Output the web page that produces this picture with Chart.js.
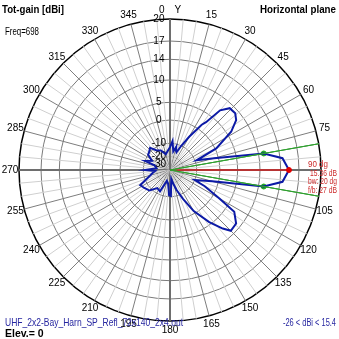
<!DOCTYPE html>
<html>
<head>
<meta charset="utf-8">
<script src="https://cdn.jsdelivr.net/npm/chart.js@4/dist/chart.umd.min.js"></script>
<style>
  html, body { margin: 0; padding: 0; background: #fff; overflow: hidden; }
  #wrap { width: 339px; height: 339px; position: relative; }
</style>
</head>
<body>
<div id="wrap"><canvas id="pattern"></canvas></div>
<script>
// Horizontal-plane total gain, vertices of the traced pattern: azimuth (deg) / gain (dBi)
const azimuths = [0, 5, 10, 15, 17, 20, 25, 30, 35, 37, 40, 44, 49, 53, 58, 65, 70, 75, 80, 84, 90, 96, 100, 105, 112, 115, 120, 123, 129, 135, 138, 143, 150, 156, 162, 167, 172, 178, 182, 188, 196, 205, 215, 225, 235, 243, 250, 260, 266, 270, 277, 287, 290, 297, 305, 310, 318, 325, 335, 345, 355];
const gains    = [-13, -9, -16, -12, -15, -16, -10, -5, 1.5, 2.8, 7.3, 9.1, 9.2, 8.4, 6.0, 0.3, -9.3, -1.8, 11.0, 14.4, 15.36, 14.4, 11.0, -2.7, -10.0, -5.0, 2.0, 7.0, 8.9, 9.1, 7.5, 4.3, -1.1, -8, -14.5, -20, -26, -10.5, -11, -20, -23, -12.4, -13.5, -9, -8, -7.1, -12, -16.9, -19, -11.7, -20, -18, -10.2, -15, -10, -9.7, -8.7, -12, -14, -18, -15];

// dB levels of the rings of the log radial grid, outermost last
const ringLevels = [-30, -20, -10, 0, 5, 10, 14, 17, 20];

// Compass labels (degrees); the 90° one is left out, the beam read-out sits there
const compassLabels = [0, 15, 30, 45, 60, 75, 105, 120, 135, 150, 165, 180, 195, 210, 225, 240, 255, 270, 285, 300, 315, 330, 345];

// Main-beam markers and run details
const peakAzimuth = 90;
const peakGain = 15.36;
const beamEdges = [80, 100];
const beamEdgeGains = [11.0, 11.0];
const beamWidth = 20;
const frontToBack = 27;
const frequency = 698;
const elevation = 0;
const modelFile = 'UHF_2x2-Bay_Harn_SP_Refl_72x140_2x4.out';

// Radial placement of each ring as a fraction of the outer radius (log-style grid)
const ringFraction = [0.04, 0.09, 0.177, 0.331, 0.448, 0.596, 0.733, 0.854, 1];
function dbToR(db) {
  if (db <= ringLevels[0]) return Math.max(0, ringFraction[0] * (db + 40) / 10);
  for (let i = 1; i < ringLevels.length; i++) {
    if (db <= ringLevels[i]) {
      const t = (db - ringLevels[i - 1]) / (ringLevels[i] - ringLevels[i - 1]);
      return ringFraction[i - 1] + t * (ringFraction[i] - ringFraction[i - 1]);
    }
  }
  return 1;
}

const N = 360;
const labels = Array.from({ length: N }, (_, i) => i);
const blank = () => new Array(N).fill(null);

const patternData = blank();
azimuths.forEach((a, i) => { patternData[a % N] = dbToR(gains[i]); });

const peakRay = blank();
peakRay[peakAzimuth] = dbToR(peakGain);
peakRay[(peakAzimuth + 180) % N] = 0;

const edgeRays = beamEdges.map(a => {
  const d = blank();
  d[a] = 1;
  d[(a + 180) % N] = 0;
  return d;
});

const edgeDots = blank();
beamEdges.forEach((a, i) => { edgeDots[a] = dbToR(beamEdgeGains[i]); });

const FONT = "'Liberation Sans', Arial, sans-serif";
const minGain = Math.min(...gains);
const maxGain = Math.max(...gains);

// Compass labels centred just outside the rim, on the scale's own spoke positions
const compass = {
  id: 'compass',
  afterDatasetsDraw(chart) {
    const s = chart.scales.r;
    const c = chart.ctx;
    c.save();
    c.font = '10px ' + FONT;
    c.fillStyle = '#000';
    c.textAlign = 'center';
    c.textBaseline = 'middle';
    compassLabels.forEach(deg => {
      const p = s.getPointPosition(deg, s.drawingArea + 9);
      c.fillText(deg === 0 ? '0\u2002\u2002Y' : String(deg), p.x, p.y);
    });
    c.restore();
  }
};

// Header, footer and beam read-out
const annotate = {
  id: 'annotate',
  afterDraw(chart) {
    const c = chart.ctx;
    c.save();
    c.textBaseline = 'alphabetic';
    c.fillStyle = '#000';
    c.font = 'bold 11px ' + FONT;
    c.textAlign = 'left';
    c.fillText('Tot-gain [dBi]', 2, 13, 62);
    c.textAlign = 'right';
    c.fillText('Horizontal plane', 336, 13, 76);
    c.textAlign = 'left';
    c.font = '10px ' + FONT;
    c.fillText('Freq=' + frequency, 5, 35, 34);
    c.fillStyle = '#2626a0';
    c.font = '10.5px ' + FONT;
    c.fillText(modelFile, 5, 326, 178);
    c.textAlign = 'right';
    c.fillText(Math.round(minGain) + ' < dBi < ' + maxGain.toFixed(1), 336, 326, 53);
    c.textAlign = 'left';
    c.fillStyle = '#000';
    c.font = 'bold 10.5px ' + FONT;
    c.fillText('Elev.= ' + elevation, 5, 337, 41);
    c.fillStyle = '#cc2a2a';
    c.font = '9.5px ' + FONT;
    c.fillText(peakAzimuth + ' dg', 308, 167, 20);
    c.fillText(peakGain.toFixed(2) + ' dB', 310, 175.5, 27);
    c.fillText('bw: ' + beamWidth + ' dg', 308, 184, 29);
    c.fillText('f/b: ' + frontToBack + ' dB', 308, 192.5, 29);
    c.restore();
  }
};

new Chart(document.getElementById('pattern'), {
  type: 'radar',
  data: {
    labels,
    datasets: [
      {
        data: edgeRays[0], borderColor: '#2ea02e', borderWidth: 1, pointRadius: 0,
        spanGaps: true, fill: false, tension: 0
      },
      {
        data: edgeRays[1], borderColor: '#2ea02e', borderWidth: 1, pointRadius: 0,
        spanGaps: true, fill: false, tension: 0
      },
      {
        data: peakRay, borderColor: '#d02020', borderWidth: 1, spanGaps: true, fill: false, tension: 0,
        pointRadius: ctx => (ctx.index === peakAzimuth ? 2.5 : 0),
        pointBackgroundColor: '#e00000', pointBorderColor: '#e00000'
      },
      {
        data: patternData, borderColor: '#0c1aa6', borderWidth: 2, pointRadius: 0,
        spanGaps: true, fill: false, tension: 0
      },
      {
        data: edgeDots, showLine: false, pointRadius: 2.5,
        pointBackgroundColor: '#1faa1f', pointBorderColor: '#1faa1f'
      }
    ]
  },
  options: {
    responsive: true,
    maintainAspectRatio: false,
    animation: false,
    events: [],
    layout: { padding: { left: 14, right: 12, top: 14, bottom: 12 } },
    plugins: { legend: { display: false }, tooltip: { enabled: false } },
    scales: {
      r: {
        min: 0,
        max: 1,
        startAngle: 0,
        afterBuildTicks: scale => {
          scale.ticks = [0, ...ringLevels.map(dbToR)].map(v => ({ value: v }));
        },
        ticks: {
          display: true,
          showLabelBackdrop: false,
          backdropPadding: 0,
          color: '#000',
          font: { family: FONT, size: 10 },
          // pad on the right so each level sits just left of the 0° spoke
          callback: (v, i) => (i === 0 ? '' : ringLevels[i - 1] + '\u2007\u2007\u2007\u2007')
        },
        grid: {
          circular: true,
          color: ctx => (ctx.index === ringLevels.length ? '#000' : '#7a7a7a'),
          lineWidth: ctx => (ctx.index === ringLevels.length ? 1.5 : 1)
        },
        angleLines: {
          color: ctx => (ctx.index % 90 === 0 ? '#6e6e6e' : ctx.index % 15 === 0 ? '#7d7d7d' : '#cfcfcf'),
          lineWidth: ctx => (ctx.index % 5 !== 0 ? 0 : ctx.index % 90 === 0 ? 2 : 1)
        },
        pointLabels: { display: false }
      }
    }
  },
  plugins: [compass, annotate]
});
</script>
</body>
</html>
